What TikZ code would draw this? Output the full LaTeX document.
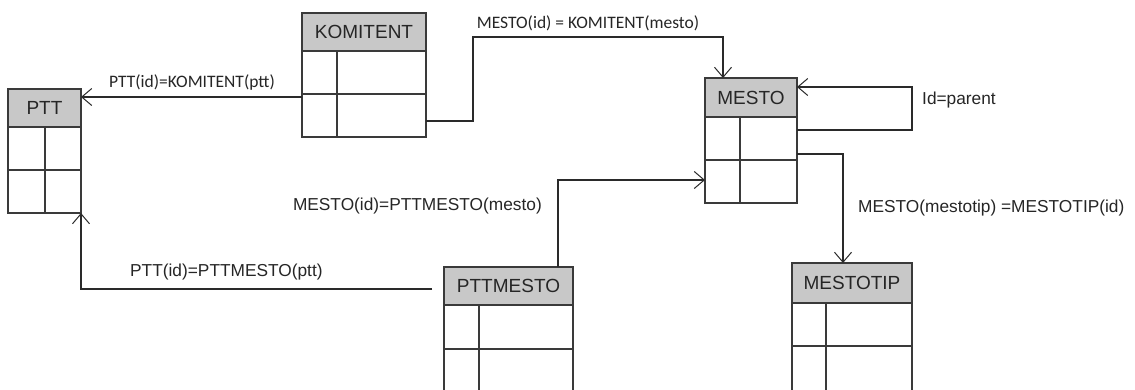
\documentclass[tikz,border=0pt]{standalone}
\usepackage{fontspec}
\setmainfont{Liberation Sans}
\newfontfamily\calib{Carlito}
\usetikzlibrary{arrows.meta}
\definecolor{hdrgray}{HTML}{C8C8C8}
\definecolor{linec}{HTML}{2A2A2A}
\definecolor{boxc}{HTML}{3A3A3A}
\tikzset{
  hdr/.style={draw=boxc, fill=hdrgray, line width=1.4pt, inner sep=0pt, outer sep=0pt,
    font=\fontsize{19}{22}\selectfont, text=black!85},
  tbody/.style={draw=boxc, line width=1.4pt, inner sep=0pt, outer sep=0pt},
  tline/.style={draw=boxc, line width=1.4pt},
  conn/.style={draw=linec, line width=1.2pt, -{Straight Barb[length=10pt,width=17pt,line width=1pt]}},
  lbl/.style={inner sep=0pt, font=\fontsize{17.3}{20}\selectfont, text=black!85},
  clbl/.style={inner sep=0pt, font=\calib\fontsize{17.5}{20}\selectfont, text=black!85}
}
% name, x1, x2, ytop, yheaderbottom, yrow, ybottom, xinner, title
\newcommand\dbtable[9]{%
  \node[hdr, minimum width={(#3-#2)*1pt}, minimum height={(#5-#4)*1pt}, anchor=north west] (#1) at (#2,-#4) {#9};
  \node[tbody, minimum width={(#3-#2)*1pt}, minimum height={(#7-#5)*1pt}, anchor=north west] (#1b) at (#2,-#5) {};
  \draw[tline] (#2,-#6) -- (#3,-#6);
  \draw[tline] (#8,-#5) -- (#8,-#7);
}
\begin{document}
\begin{tikzpicture}[x=1pt,y=1pt]
  \fill[white] (0,0) rectangle (1135,-389);
  \clip (0,0) rectangle (1135,-389);
  \useasboundingbox (0,0) rectangle (1135,-389);

  \dbtable{ptt}{8}{81}{89}{127}{170}{213}{45}{PTT}
  \dbtable{kom}{302}{426}{13}{51}{94}{137}{337}{KOMITENT}
  \dbtable{mesto}{705}{797}{78}{117}{160}{203}{740}{MESTO}
  \dbtable{pttmesto}{444}{573}{267}{305}{349}{395}{479}{PTTMESTO}
  \dbtable{mestotip}{792}{912}{263}{303}{346}{395}{826}{MESTOTIP}

  % thick right edge of PTT
  \draw[boxc, line width=2.2pt] (ptt.north east) -- (pttb.south east);

  % KOMITENT -> PTT
  \draw[conn] (komb.west |- 0,-97) -- (ptt.east |- 0,-97);
  \node[clbl] (l1) at (192,-83) {PTT(id)=KOMITENT(ptt)};

  % KOMITENT -> MESTO
  \draw[conn] (komb.east |- 0,-121) -- (473,-121) -- (473,-37) -- (723,-37) -- (mesto.north -| 723,0);
  \node[clbl] (l2) at (588,-23) {MESTO(id) = KOMITENT(mesto)};

  % MESTO self reference
  \draw[conn] (mestob.east |- 0,-130) -- (912,-130) -- (912,-87) -- (mesto.east |- 0,-87);
  \node[lbl, anchor=west] (l3) at (922,-100) {Id=parent};

  % MESTO -> MESTOTIP
  \draw[conn] (mestob.east |- 0,-154) -- (843,-154) -- (mestotip.north -| 843,0);
  \node[lbl, anchor=west] (l4) at (858,-208) {MESTO(mestotip) =MESTOTIP(id)};

  % PTTMESTO -> MESTO
  \draw[conn] (pttmesto.north -| 558,0) -- (558,-180) -- (mestob.west |- 0,-180);
  \node[lbl, anchor=east] (l5) at (542,-206) {MESTO(id)=PTTMESTO(mesto)};

  % PTTMESTO -> PTT
  \coordinate (pmend) at (432,-289);
  \draw[conn] (pmend) -- (pttb.south east |- pmend) -- (pttb.south east);
  \node[lbl, anchor=west] (l6) at (130,-272) {PTT(id)=PTTMESTO(ptt)};
\end{tikzpicture}
\end{document}
